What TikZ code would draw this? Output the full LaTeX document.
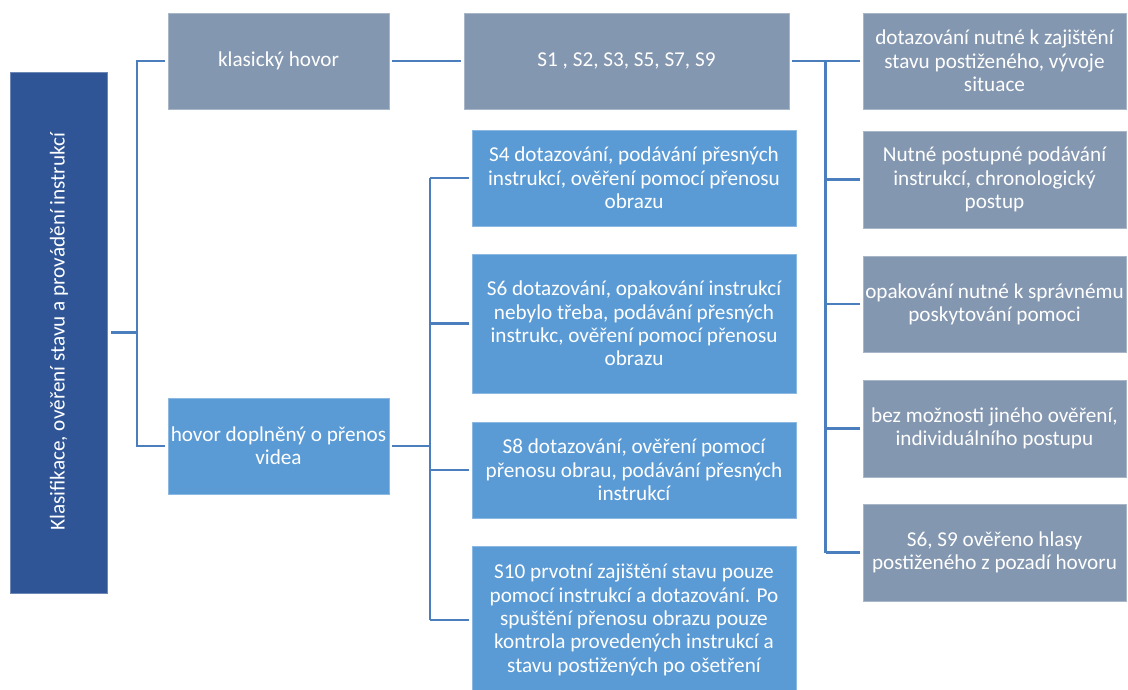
\documentclass[tikz,border=0pt]{standalone}
\usepackage{fontspec}
\setmainfont{Carlito}
\begin{document}
\begin{tikzpicture}[x=1pt,y=-1pt,
  box/.style={rectangle, inner sep=0pt, align=center, text=white,
    font=\fontsize{21.2}{23.3}\selectfont, line width=0.8pt},
  rootbox/.style={box, fill=rootc, draw=rootc!70!white},
  graybox/.style={box, fill=grayc, draw=grayc!70!white},
  bluebox/.style={box, fill=bluec, draw=bluec!70!white},
  conn/.style={draw=linec, line width=2.6pt}
]
\definecolor{rootc}{RGB}{47,85,151}
\definecolor{grayc}{RGB}{132,151,176}
\definecolor{bluec}{RGB}{91,155,213}
\definecolor{linec}{RGB}{74,126,189}

\fill[white] (0,0) rectangle (1128,690);
\useasboundingbox (0,0) rectangle (1128,690);

% root
\node[rootbox, minimum width=97, minimum height=521] (root) at (59,332.5) {};
\node[rotate=90, text=white, font=\fontsize{21.2}{23.3}\selectfont] (roottxt) at (59,331.5)
  {Klasifikace, ověření stavu a provádění instrukcí};

% second level
\node[graybox, minimum width=221, minimum height=96] (klas) at (278.5,61) {klasický hovor};
\node[bluebox, minimum width=221, minimum height=96] (video) at (278.5,446) {hovor doplněný o přenos\\videa};

% third level
\node[graybox, minimum width=325, minimum height=96] (s1) at (626.5,61) {S1 , S2, S3, S5, S7, S9};
\node[bluebox, minimum width=324, minimum height=96] (s4) at (634,178)
  {S4 dotazování, podávání přesných\\instrukcí, ověření pomocí přenosu\\obrazu};
\node[bluebox, minimum width=324, minimum height=139] (s6) at (634,323.5)
  {S6 dotazování, opakování instrukcí\\nebylo třeba, podávání přesných\\instrukc, ověření pomocí přenosu\\obrazu};
\node[bluebox, minimum width=324, minimum height=96] (s8) at (634,470)
  {S8 dotazování, ověření pomocí\\přenosu obrau, podávání přesných\\instrukcí};
\node[bluebox, minimum width=324, minimum height=148] (s10) at (634,620)
  {S10 prvotní zajištění stavu pouze\\pomocí instrukcí a dotazování. Po\\spuštění přenosu obrazu pouze\\kontrola provedených instrukcí a\\stavu postižených po ošetření};

% fourth level
\node[graybox, minimum width=263, minimum height=96] (r1) at (994.5,61)
  {dotazování nutné k zajištění\\stavu postiženého, vývoje\\situace};
\node[graybox, minimum width=263, minimum height=97] (r2) at (994.5,179.5)
  {Nutné postupné podávání\\instrukcí, chronologický\\postup};
\node[graybox, minimum width=263, minimum height=96] (r3) at (994.5,304)
  {opakování nutné k správnému\\poskytování pomoci};
\node[graybox, minimum width=263, minimum height=97] (r4) at (994.5,428.5)
  {bez možnosti jiného ověření,\\individuálního postupu};
\node[graybox, minimum width=263, minimum height=97] (r5) at (994.5,552.5)
  {S6, S9 ověřeno hlasy\\postiženého z pozadí hovoru};

% bus lines
\coordinate (rbus0) at (137,0);
\coordinate (vbus0) at (430,0);
\coordinate (sbus0) at (825.5,0);

% root -> second level
\draw[conn] ([xshift=3]root.east) -- (root.east -| rbus0);
\draw[conn] ([xshift=-3]klas.west) -| (root.east -| rbus0) |- ([xshift=-3]video.west);

% klasicky hovor -> S1
\draw[conn] ([xshift=3]klas.east) -- ([xshift=-3]s1.west);

% video -> blue boxes
\draw[conn] ([xshift=3]video.east) -- (video.east -| vbus0);
\draw[conn] (s4.west -| vbus0) -- (s10.west -| vbus0);
\foreach \n in {s4,s6,s8,s10}
  \draw[conn] (\n.west -| vbus0) -- ([xshift=-3]\n.west);

% S1 -> right column
\draw[conn] ([xshift=3]s1.east) -- (s1.east -| sbus0);
\draw[conn] (r1.west -| sbus0) -- (r5.west -| sbus0);
\foreach \n in {r1,r2,r3,r4,r5}
  \draw[conn] (\n.west -| sbus0) -- ([xshift=-3]\n.west);
\end{tikzpicture}
\end{document}
